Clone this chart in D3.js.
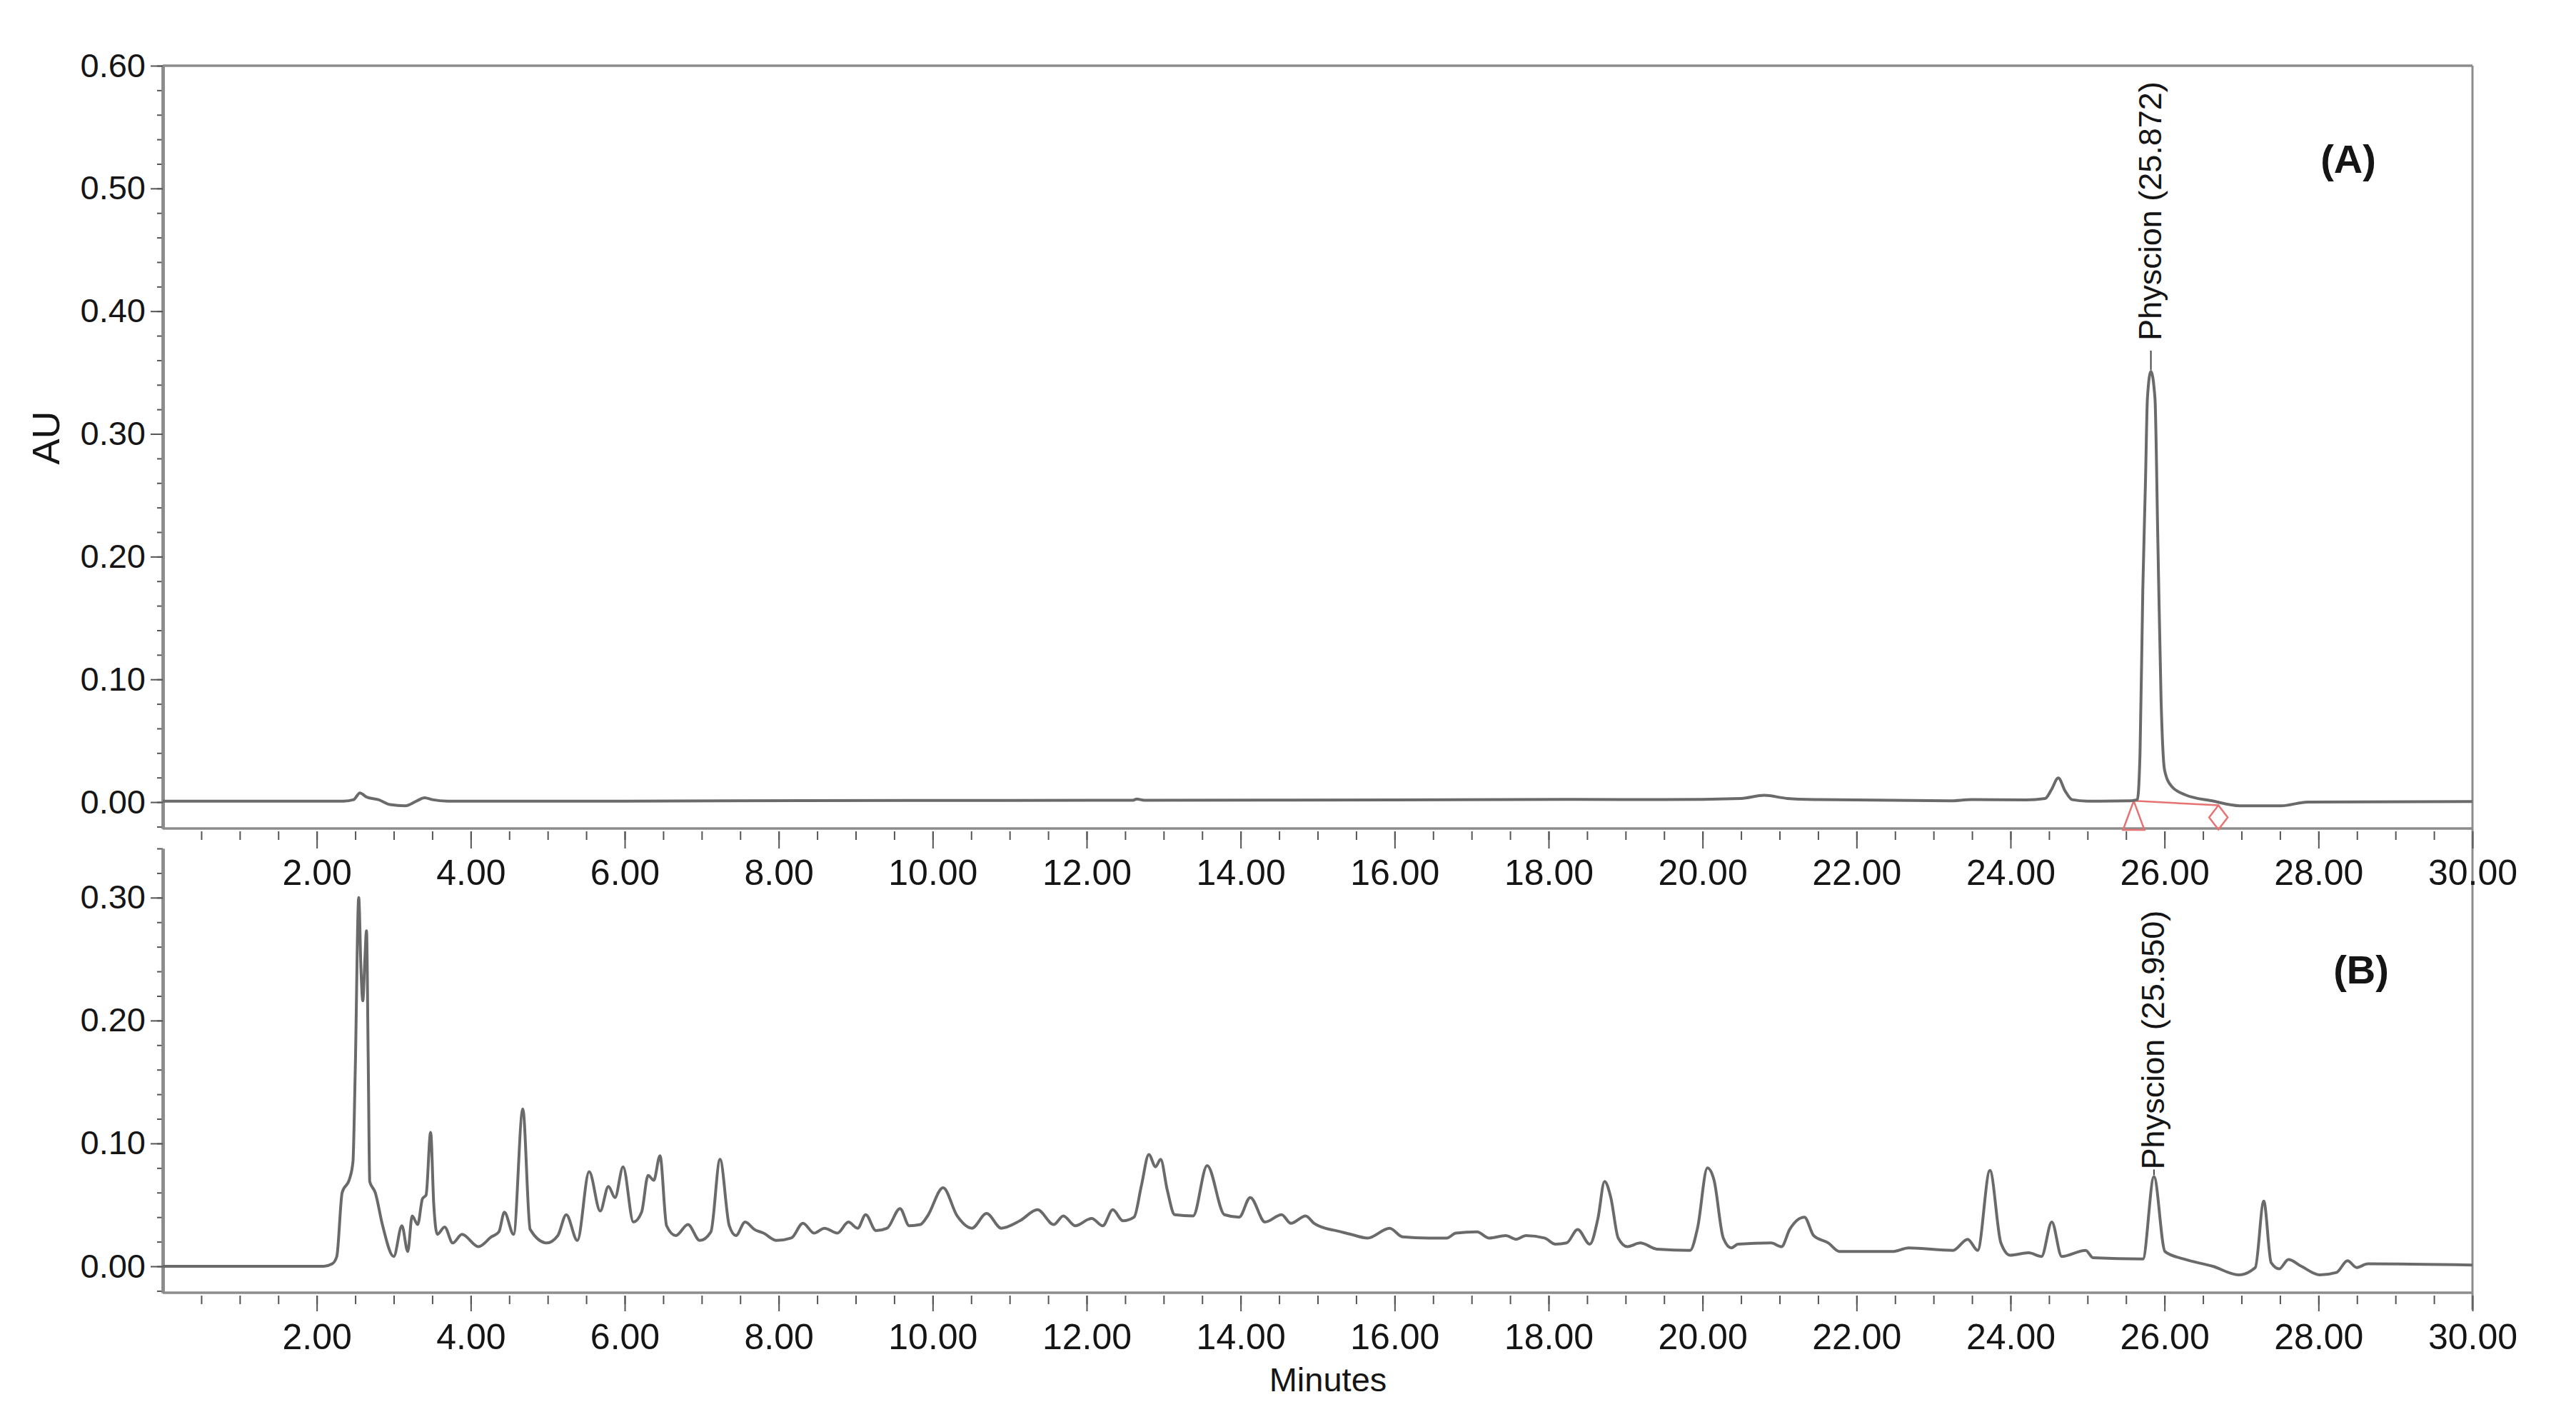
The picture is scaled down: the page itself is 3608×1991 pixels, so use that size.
<!DOCTYPE html>
<html>
<head>
<meta charset="utf-8">
<script src="https://cdn.jsdelivr.net/npm/d3@7"></script>
<style>
  body { margin: 0; background: #ffffff; }
  svg text { font-family: "Liberation Sans", Arial, sans-serif; }
</style>
</head>
<body>
<svg id="chart"></svg>
<script>
// ------------------ data ------------------
// [minutes, AU]
var traceA = [
  [0, 0.0008], [2.35, 0.0008], [2.48, 0.002], [2.56, 0.0075], [2.65, 0.004], [2.8, 0.002],
  [2.95, -0.002], [3.15, -0.003], [3.3, 0.001], [3.4, 0.0035], [3.5, 0.002], [3.7, 0.0008],
  [6, 0.0008], [8.3, 0.0012], [12.6, 0.0015], [12.65, 0.0025], [12.75, 0.0015], [16.0, 0.0018],
  [18.3, 0.0022], [19.5, 0.002], [20.5, 0.003], [20.8, 0.0055], [21.1, 0.003], [21.5, 0.002],
  [23.2, 0.001], [23.5, 0.002], [24.2, 0.0018], [24.45, 0.003], [24.53, 0.01], [24.62, 0.0196],
  [24.71, 0.009], [24.8, 0.002], [25.0, 0.0008], [25.55, 0.001], [25.647, 0.002], [25.682, 0.04],
  [25.718, 0.173], [25.753, 0.262], [25.778, 0.329], [25.823, 0.351], [25.876, 0.329],
  [25.912, 0.218], [25.955, 0.084], [26.001, 0.026], [26.09, 0.013], [26.267, 0.006],
  [26.62, 0.001], [26.977, -0.003], [27.51, -0.003], [27.86, 0.0], [30, 0.0005]
];

var traceB = [
  [0, 0.0], [2.09, 0.0], [2.2, 0.002], [2.26, 0.008], [2.33, 0.060], [2.425, 0.071], [2.47, 0.085],
  [2.5, 0.16], [2.545, 0.300], [2.575, 0.24], [2.598, 0.216], [2.625, 0.25], [2.646, 0.273],
  [2.668, 0.17], [2.688, 0.069], [2.76, 0.060], [2.856, 0.033], [3.0, 0.008], [3.106, 0.033],
  [3.182, 0.012], [3.239, 0.041], [3.311, 0.034], [3.373, 0.055], [3.42, 0.058], [3.479, 0.109],
  [3.52, 0.05], [3.565, 0.026], [3.661, 0.032], [3.766, 0.019], [3.886, 0.026], [4.10, 0.016],
  [4.269, 0.024], [4.365, 0.028], [4.437, 0.044], [4.557, 0.026], [4.676, 0.128], [4.772, 0.030],
  [4.987, 0.019], [5.131, 0.025], [5.241, 0.042], [5.385, 0.021], [5.538, 0.077], [5.682, 0.045],
  [5.788, 0.065], [5.874, 0.056], [5.979, 0.081], [6.113, 0.036], [6.219, 0.044], [6.304, 0.074],
  [6.377, 0.070], [6.458, 0.090], [6.544, 0.033], [6.664, 0.025], [6.821, 0.034], [6.975, 0.021],
  [7.119, 0.028], [7.238, 0.087], [7.358, 0.033], [7.444, 0.025], [7.564, 0.036], [7.684, 0.030],
  [7.803, 0.027], [7.971, 0.021], [8.163, 0.023], [8.316, 0.035], [8.459, 0.027], [8.594, 0.031],
  [8.762, 0.027], [8.905, 0.036], [9.025, 0.031], [9.130, 0.042], [9.264, 0.029], [9.408, 0.031],
  [9.576, 0.047], [9.695, 0.033], [9.839, 0.034], [9.934, 0.041], [10.135, 0.064], [10.318, 0.041],
  [10.509, 0.031], [10.70, 0.043], [10.892, 0.031], [11.132, 0.037], [11.362, 0.046], [11.572, 0.034],
  [11.697, 0.041], [11.85, 0.033], [12.065, 0.039], [12.209, 0.033], [12.339, 0.046], [12.472, 0.037],
  [12.616, 0.040], [12.712, 0.066], [12.808, 0.091], [12.894, 0.081], [12.961, 0.087], [13.047, 0.062],
  [13.143, 0.042], [13.383, 0.041], [13.565, 0.082], [13.79, 0.042], [13.981, 0.040], [14.125, 0.056],
  [14.317, 0.036], [14.532, 0.042], [14.652, 0.035], [14.844, 0.041], [14.954, 0.035], [15.097, 0.031],
  [15.24, 0.029], [15.432, 0.026], [15.648, 0.023], [15.935, 0.031], [16.103, 0.024], [16.437, 0.023],
  [16.677, 0.023], [16.797, 0.027], [17.07, 0.028], [17.228, 0.023], [17.443, 0.025], [17.578, 0.022],
  [17.707, 0.025], [17.947, 0.023], [18.09, 0.018], [18.234, 0.019], [18.378, 0.030], [18.535, 0.018],
  [18.641, 0.039], [18.727, 0.069], [18.808, 0.056], [18.904, 0.023], [19.024, 0.016], [19.191, 0.019],
  [19.407, 0.014], [19.838, 0.013], [19.934, 0.031], [20.063, 0.080], [20.149, 0.070], [20.269, 0.023],
  [20.374, 0.015], [20.46, 0.018], [20.891, 0.019], [21.025, 0.016], [21.131, 0.030], [21.323, 0.040],
  [21.443, 0.025], [21.634, 0.019], [21.778, 0.012], [22.463, 0.012], [22.678, 0.015], [23.252, 0.013],
  [23.444, 0.022], [23.573, 0.013], [23.732, 0.078], [23.875, 0.019], [23.995, 0.009], [24.234, 0.011],
  [24.402, 0.008], [24.536, 0.036], [24.665, 0.008], [24.976, 0.013], [25.072, 0.007], [25.719, 0.006],
  [25.863, 0.073], [26.006, 0.012], [26.246, 0.006], [26.628, 0.0], [26.964, -0.007], [27.179, -0.001],
  [27.289, 0.053], [27.385, 0.003], [27.49, -0.002], [27.61, 0.0055], [27.778, 0.0], [28.017, -0.007],
  [28.233, -0.005], [28.377, 0.0045], [28.496, -0.001], [28.64, 0.002], [30, 0.001]
];

// labelled peaks: [minutes, AU, text]
var peakA = [25.823, 0.351, 'Physcion (25.872)'];
var peakB = [25.863, 0.073, 'Physcion (25.950)'];

// integration marks on trace A: start (triangle) and end (diamond), minutes
var integA = [25.6, 26.7];

// tick labels
var xTicks = [2, 4, 6, 8, 10, 12, 14, 16, 18, 20, 22, 24, 26, 28, 30];
var yTicksA = [0, 0.1, 0.2, 0.3, 0.4, 0.5, 0.6];
var yTicksB = [0, 0.1, 0.2, 0.3];

// ------------------ svg ---------------------------
var W = 3608, H = 1991;
var svg = d3.select('#chart').attr('width', W).attr('height', H);
svg.append('rect').attr('width', W).attr('height', H).attr('fill', '#ffffff');

var frameCol = '#8c8c8c', tickCol = '#555555', textCol = '#151515';

var x = d3.scaleLinear().domain([0, 30]).range([228, 3463]);
var yA = d3.scaleLinear().domain([-0.0215, 0.6]).range([1160, 92]);
var yB = d3.scaleLinear().domain([-0.0215, 0.34]).range([1810, 1188]);

var minorX = d3.range(0.5, 30, 0.5);
var minorYA = d3.range(-0.02, 0.6001, 0.02);
var minorYB = d3.range(-0.02, 0.3401, 0.02);

// ------------------ frame lines ---------------------------
function hline(y, x1, x2) {
  svg.append('line').attr('x1', x1).attr('x2', x2).attr('y1', y).attr('y2', y)
     .attr('stroke', frameCol).attr('stroke-width', 3.5);
}
hline(yA(0.6), x(0), x(30));
hline(yA.range()[0], x(0), x(30));
hline(yB.range()[0], x(0), x(30));
svg.append('line').attr('x1', x(30)).attr('x2', x(30))
   .attr('y1', yA(0.6)).attr('y2', yB.range()[0] + 24)
   .attr('stroke', frameCol).attr('stroke-width', 3);

// ------------------ y axes ---------------------------
function yAxis(scale, minor, major) {
  var g1 = svg.append('g').attr('transform', `translate(${x(0)},0)`)
    .call(d3.axisLeft(scale).tickValues(minor).tickSize(8).tickFormat('').tickSizeOuter(0));
  var g2 = svg.append('g').attr('transform', `translate(${x(0)},0)`)
    .call(d3.axisLeft(scale).tickValues(major).tickSize(17).tickPadding(7)
      .tickFormat(d3.format('.2f')).tickSizeOuter(0));
  [g1, g2].forEach(function(g) {
    g.select('.domain').attr('stroke', frameCol).attr('stroke-width', 4.5);
    g.selectAll('.tick line').attr('stroke', tickCol).attr('stroke-width', 2);
  });
  g2.selectAll('text').attr('font-size', 47).attr('fill', textCol)
    .attr('font-family', '"Liberation Sans", Arial, sans-serif');
}
yAxis(yA, minorYA, yTicksA);
yAxis(yB, minorYB, yTicksB);

// ------------------ x axes ---------------------------
function xAxis(yPos, majorLen, pad) {
  var g1 = svg.append('g').attr('transform', `translate(0,${yPos})`)
    .call(d3.axisBottom(x).tickValues(minorX).tickSize(12).tickFormat(''));
  var g2 = svg.append('g').attr('transform', `translate(0,${yPos})`)
    .call(d3.axisBottom(x).tickValues(xTicks).tickSize(majorLen).tickPadding(pad)
      .tickFormat(d3.format('.2f')));
  [g1, g2].forEach(function(g) {
    g.select('.domain').remove();
    g.selectAll('.tick line').attr('stroke', tickCol).attr('stroke-width', 2);
  });
  g2.selectAll('text').attr('font-size', 50).attr('fill', textCol)
    .attr('font-family', '"Liberation Sans", Arial, sans-serif');
}
xAxis(yA.range()[0] + 4, 24, 15);
xAxis(yB.range()[0] + 4, 22, 17);

// ------------------ traces ---------------------------
var lineA = d3.line().x(d => x(d[0])).y(d => yA(d[1])).curve(d3.curveMonotoneX);
var lineB = d3.line().x(d => x(d[0])).y(d => yB(d[1])).curve(d3.curveMonotoneX);

// red integration marks (drawn under the trace)
var ix0 = x(integA[0]), iy0 = yA(0.001);
var ix1 = x(integA[1]), iy1 = yA(-0.0125);
var red = '#e57373';
svg.append('line').attr('x1', ix0).attr('y1', iy0).attr('x2', ix1).attr('y2', iy1 - 17)
   .attr('stroke', red).attr('stroke-width', 2.5);
svg.append('path')
   .attr('d', `M${ix0 - 15},${yA.range()[0] + 2} L${ix0},${iy0} L${ix0 + 15},${yA.range()[0] + 2} Z`)
   .attr('fill', 'none').attr('stroke', red).attr('stroke-width', 2.5);
svg.append('path')
   .attr('d', `M${ix1},${iy1 - 17} L${ix1 + 13},${iy1} L${ix1},${iy1 + 17} L${ix1 - 13},${iy1} Z`)
   .attr('fill', 'none').attr('stroke', red).attr('stroke-width', 2.5);

svg.append('path').datum(traceA).attr('d', lineA)
   .attr('fill', 'none').attr('stroke', '#6a6a6a').attr('stroke-width', 4).attr('stroke-linejoin', 'round');
svg.append('path').datum(traceB).attr('d', lineB)
   .attr('fill', 'none').attr('stroke', '#6a6a6a').attr('stroke-width', 4).attr('stroke-linejoin', 'round');

// ------------------ peak labels ---------------------------
function peakLabel(p, scale, gap, lineLen) {
  var px = x(p[0]), py = scale(p[1]);
  svg.append('line').attr('x1', px).attr('x2', px).attr('y1', py - 2).attr('y2', py - 2 - lineLen)
     .attr('stroke', '#444').attr('stroke-width', 2);
  svg.append('text').attr('transform', `translate(${px},${py - gap}) rotate(-90)`)
     .attr('dy', '0.32em').attr('font-size', 45).attr('fill', textCol).text(p[2]);
}
peakLabel(peakA, yA, 43, 27);
peakLabel(peakB, yB, 10, 8);

// ------------------ panel titles, axis titles ---------------------------
svg.append('text').attr('x', 3289).attr('y', 242).attr('text-anchor', 'middle')
   .attr('font-size', 56).attr('font-weight', 'bold').attr('fill', textCol).text('(A)');
svg.append('text').attr('x', 3307).attr('y', 1377).attr('text-anchor', 'middle')
   .attr('font-size', 56).attr('font-weight', 'bold').attr('fill', textCol).text('(B)');

svg.append('text').attr('transform', 'translate(64,613) rotate(-90)').attr('text-anchor', 'middle')
   .attr('dy', '0.35em').attr('font-size', 54).attr('fill', textCol).text('AU');
svg.append('text').attr('x', 1860).attr('y', 1948).attr('text-anchor', 'middle')
   .attr('font-size', 47).attr('fill', textCol).text('Minutes');
</script>
</body>
</html>
